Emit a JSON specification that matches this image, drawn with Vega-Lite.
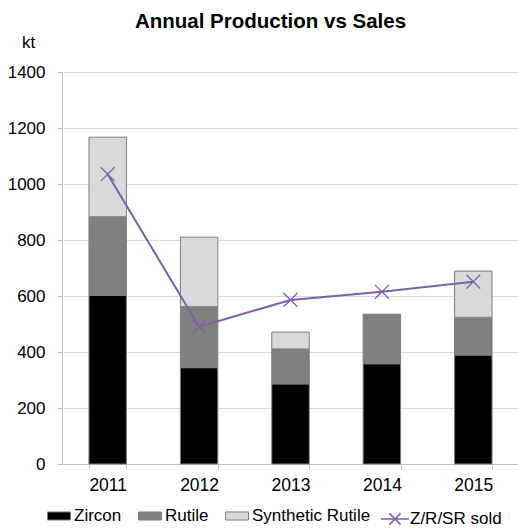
{
  "$schema": "https://vega.github.io/schema/vega-lite/v6.json",
  "autosize": {"type": "none"},
  "width": 457,
  "height": 392,
  "padding": {"left": 62, "top": 72, "right": 0, "bottom": 65},
  "background": "white",
  "config": {
    "font": "Liberation Sans",
    "view": {"stroke": null}
  },
  "title": {"text": "Annual Production vs Sales", "fontSize": 20.5, "font": "Liberation Sans", "fontWeight": "bold", "color": "#000000", "anchor": "middle", "frame": "group", "dx": -20, "offset": -15, "baseline": "alphabetic"},
  "datasets": {
    "bars": [
      {"year": "2011", "type": "Zircon", "value": 602},
      {"year": "2011", "type": "Rutile", "value": 281},
      {"year": "2011", "type": "Synthetic Rutile", "value": 284},
      {"year": "2012", "type": "Zircon", "value": 344},
      {"year": "2012", "type": "Rutile", "value": 218},
      {"year": "2012", "type": "Synthetic Rutile", "value": 248},
      {"year": "2013", "type": "Zircon", "value": 286},
      {"year": "2013", "type": "Rutile", "value": 125},
      {"year": "2013", "type": "Synthetic Rutile", "value": 60},
      {"year": "2014", "type": "Zircon", "value": 358},
      {"year": "2014", "type": "Rutile", "value": 177},
      {"year": "2015", "type": "Zircon", "value": 389},
      {"year": "2015", "type": "Rutile", "value": 135},
      {"year": "2015", "type": "Synthetic Rutile", "value": 165}
    ],
    "sold": [
      {"year": "2011", "series": "Z/R/SR sold", "value": 1035},
      {"year": "2012", "series": "Z/R/SR sold", "value": 490},
      {"year": "2013", "series": "Z/R/SR sold", "value": 586},
      {"year": "2014", "series": "Z/R/SR sold", "value": 615},
      {"year": "2015", "series": "Z/R/SR sold", "value": 651}
    ]
  },
  "encoding": {
    "x": {"field": "year", "type": "ordinal", "scale": {"paddingInner": 0.59, "paddingOuter": 0.295},
      "axis": {"title": null, "labelAngle": 0, "labelPadding": 7, "labelFontSize": 17.5, "labelFont": "Liberation Sans", "labelColor": "#000000", "tickSize": 5, "tickColor": "#bfbfbf", "tickBand": "extent", "domainColor": "#bfbfbf"}},
    "y": {"type": "quantitative", "scale": {"domain": [0, 1400]}}
  },
  "layer": [
    {
      "data": {"name": "bars"},
      "transform": [
        {"calculate": "indexof(['Zircon', 'Rutile', 'Synthetic Rutile'], datum.type)", "as": "stackRank"}
      ],
      "mark": {"type": "bar", "stroke": "#7f7f7f", "strokeWidth": 1},
      "encoding": {
        "y": {"field": "value", "type": "quantitative", "stack": "zero",
          "axis": {"title": "kt", "titleAngle": 0, "titleFont": "Liberation Sans", "titleFontSize": 17, "titleFontWeight": "normal", "titleColor": "#000000", "titleX": -34, "titleY": -25, "titleAlign": "center", "titleBaseline": "alphabetic",
            "values": [0,200,400,600,800,1000,1200,1400], "format": "d", "labelOverlap": false, "labelFontSize": 17, "labelFont": "Liberation Sans", "labelColor": "#000000",
            "grid": true, "gridColor": "#d9d9d9", "tickSize": 5, "tickColor": "#bfbfbf", "labelPadding": 12, "domainColor": "#bfbfbf"}},
        "color": {"field": "type", "type": "nominal",
          "scale": {"domain": ["Zircon", "Rutile", "Synthetic Rutile"], "range": ["#000000", "#808080", "#d9d9d9"]},
          "legend": {"title": null, "orient": "none", "legendX": -15, "legendY": 432, "direction": "horizontal", "symbolType": "M-1,-0.35H1V0.35H-1Z", "symbolSize": 529, "symbolStrokeColor": "#7f7f7f", "symbolStrokeWidth": 1, "labelFont": "Liberation Sans", "labelFontSize": 17, "labelColor": "#000000", "labelOffset": 3, "columnPadding": 14}},
        "order": {"field": "stackRank", "type": "quantitative", "sort": "ascending"}
      }
    },
    {
      "data": {"name": "sold"},
      "mark": {"type": "line", "color": "#7f5fa8", "strokeWidth": 2},
      "encoding": {
        "y": {"field": "value", "type": "quantitative"},
        "stroke": {"field": "series", "type": "nominal", "scale": {"range": ["#7f5fa8"]},
          "legend": {"title": null, "orient": "none", "legendX": 318, "legendY": 432, "symbolType": "M-1,0L1,0M-0.4,-0.4L0.4,0.4M-0.4,0.4L0.4,-0.4", "symbolSize": 784, "symbolStrokeWidth": 1.5, "labelFont": "Liberation Sans", "labelFontSize": 17, "labelColor": "#000000", "labelOffset": 0}}
      }
    },
    {
      "data": {"name": "sold"},
      "mark": {"type": "point", "shape": "M-1,-1L1,1M-1,1L1,-1", "filled": false, "color": "#7f5fa8", "strokeWidth": 1.3, "size": 190, "opacity": 1},
      "encoding": {
        "y": {"field": "value", "type": "quantitative"}
      }
    }
  ]
}
